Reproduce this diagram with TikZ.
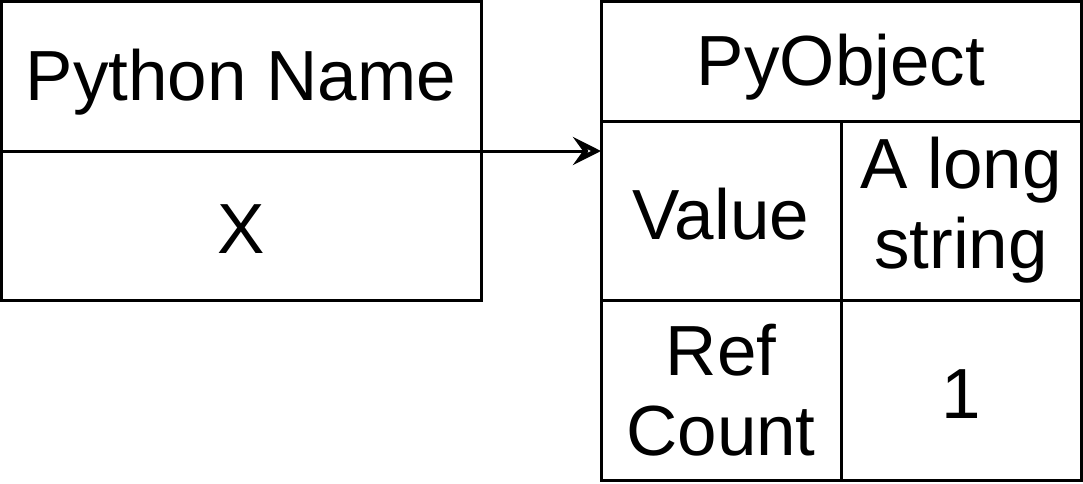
\documentclass[tikz,border=0pt]{standalone}
\usepackage{fontspec}
\setmainfont{Liberation Sans}
\usetikzlibrary{arrows.meta,positioning}

\newcommand{\low}[2]{\raisebox{-#1}[\height][\depth]{#2}}

\begin{document}
\begin{tikzpicture}[
    x=0.5pt, y=-0.5pt,
    cell/.style={rectangle, draw, line width=1.5pt, outer sep=0pt, inner sep=0pt,
        align=center, font=\fontsize{35.5}{40}\selectfont},
    wide/.style={cell, minimum width=240pt},
    half/.style={cell, minimum width=120pt},
    link/.style={-{Stealth[open, length=14pt, width=14pt, inset=5pt, line width=2.2pt]}, line width=1.5pt}
]
\useasboundingbox (0,0) rectangle (1083,483);

% name box
\node[wide, minimum height=75pt, anchor=north west] (name) at (1,1) {\low{3pt}{Python Name}};
\node[wide, minimum height=74.5pt, below=0pt of name] (var) {\low{2pt}{X}};

% object box
\node[wide, minimum height=60pt, anchor=north west] (obj) at (601,1) {\low{3pt}{PyObject}};
\node[half, minimum height=89.5pt, anchor=north west] (vallbl) at (obj.south west) {\low{2pt}{Value}};
\node[half, minimum height=89.5pt, right=0pt of vallbl] (val) {A long\\string};
\node[half, minimum height=90pt, below=0pt of vallbl] (reflbl) {Ref\\Count};
\node[half, minimum height=90pt, below=0pt of val] (ref) {\low{2pt}{1}};

\draw[link] (name.south east) -- (name.south east -| vallbl.west);
\end{tikzpicture}
\end{document}
